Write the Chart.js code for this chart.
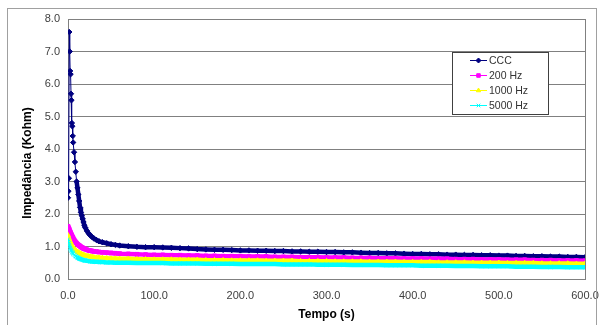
<!DOCTYPE html>
<html>
<head>
<meta charset="utf-8">
<script src="https://cdn.jsdelivr.net/npm/chart.js@4"></script>
<style>
  html, body { margin: 0; padding: 0; background: #fff; }
  #wrap { width: 601px; height: 325px; position: relative; }
</style>
</head>
<body>
<div id="wrap"><canvas id="myChart"></canvas></div>
<script>
const ctx = document.getElementById('myChart');

// tempo (s)
const tempo = [0,0.5,1,1.5,2,2.5,3,3.5,4,4.5,5,5.5,6,
  7,8,9,10,11,12,13,14,15,16,17,18,19,20,
  22,24,26,28,30,33,36,40,45,50,55,60,70,80,90,
  100,110,120,130,140,150,160,170,180,190,200,
  210,220,230,240,250,260,270,280,290,300,
  310,320,330,340,350,360,370,380,390,400,
  410,420,430,440,450,460,470,480,490,500,
  510,520,530,540,550,560,570,580,590,600];

const ccc = [2.5,2.7,3.1,7.6,7.0,6.4,6.3,5.7,5.5,4.8,4.7,4.4,4.2,
  3.9,3.6,3.3,3.0,2.8,2.6,2.4,2.2,2.05,1.95,1.85,1.75,1.65,1.58,
  1.48,1.40,1.34,1.29,1.25,1.20,1.16,1.13,1.10,1.07,1.05,1.03,1.01,0.99,0.98,
  0.98,0.97,0.96,0.95,0.94,0.92,0.91,0.90,0.90,0.89,0.88,
  0.88,0.87,0.87,0.86,0.86,0.85,0.85,0.84,0.84,0.83,
  0.83,0.82,0.82,0.81,0.80,0.80,0.79,0.79,0.78,0.77,
  0.77,0.76,0.76,0.75,0.75,0.74,0.74,0.73,0.73,0.72,
  0.72,0.71,0.71,0.70,0.70,0.69,0.69,0.68,0.68,0.67];

const hz200 = [1.62,1.58,1.55,1.52,1.48,1.45,1.42,1.39,1.36,1.33,1.30,1.28,1.25,
  1.21,1.17,1.13,1.10,1.07,1.05,1.03,1.01,0.99,0.97,0.96,0.94,0.93,0.92,
  0.90,0.88,0.87,0.86,0.85,0.84,0.83,0.82,0.81,0.80,0.79,0.78,0.77,0.76,0.75,
  0.74,0.74,0.73,0.73,0.72,0.72,0.71,0.71,0.70,0.70,0.70,
  0.69,0.69,0.69,0.68,0.68,0.68,0.67,0.67,0.67,0.66,
  0.66,0.66,0.65,0.65,0.65,0.64,0.64,0.64,0.63,0.63,
  0.63,0.62,0.62,0.62,0.61,0.61,0.61,0.60,0.60,0.60,
  0.59,0.59,0.59,0.58,0.58,0.58,0.57,0.57,0.57,0.56];

const hz1000 = [1.35,1.30,1.26,1.22,1.18,1.15,1.12,1.09,1.06,1.03,1.01,0.99,0.97,
  0.94,0.91,0.88,0.86,0.84,0.82,0.80,0.79,0.78,0.76,0.75,0.74,0.73,0.72,
  0.71,0.70,0.69,0.68,0.67,0.66,0.66,0.65,0.64,0.63,0.63,0.62,0.62,0.61,0.61,
  0.60,0.60,0.60,0.59,0.59,0.59,0.58,0.58,0.58,0.57,0.57,
  0.57,0.57,0.56,0.56,0.56,0.56,0.55,0.55,0.55,0.55,
  0.54,0.54,0.54,0.54,0.53,0.53,0.53,0.53,0.52,0.52,
  0.52,0.52,0.51,0.51,0.51,0.51,0.50,0.50,0.50,0.50,
  0.49,0.49,0.49,0.49,0.48,0.48,0.48,0.48,0.47,0.47];

const hz5000 = [1.22,1.15,1.10,1.05,1.00,0.96,0.93,0.90,0.87,0.84,0.82,0.80,0.78,
  0.75,0.72,0.70,0.68,0.66,0.64,0.63,0.62,0.61,0.60,0.59,0.58,0.57,0.57,
  0.56,0.55,0.54,0.54,0.53,0.53,0.52,0.52,0.51,0.51,0.50,0.50,0.50,0.49,0.49,
  0.49,0.49,0.48,0.48,0.48,0.48,0.47,0.47,0.47,0.47,0.46,
  0.46,0.46,0.46,0.46,0.45,0.45,0.45,0.45,0.44,0.44,
  0.44,0.44,0.43,0.43,0.43,0.43,0.42,0.42,0.42,0.42,
  0.41,0.41,0.41,0.41,0.40,0.40,0.40,0.39,0.39,0.39,
  0.39,0.38,0.38,0.38,0.37,0.37,0.37,0.36,0.36,0.36];

const seriesNames = ['CCC', '200 Hz', '1000 Hz', '5000 Hz'];
const seriesData = [ccc, hz200, hz1000, hz5000];
const colors = ['#000080', '#FF00FF', '#FFFF00', '#00FFFF'];
const markers = ['rectRot', 'rect', 'triangle', 'crossRot'];
const yTitle = 'Impedância (Kohm)';

function pts(values){
  return values.map((v, i) => ({x: tempo[i], y: v}));
}

// moldura externa, borda direita da area, titulo do eixo y e legenda
const excelFrame = {
  id: 'excelFrame',
  afterDraw(chart){
    const c = chart.ctx;
    const a = chart.chartArea;
    c.save();
    c.strokeStyle = '#a0a0a0';
    c.lineWidth = 1;
    c.strokeRect(7.5, 8.5, 589, 330);
    c.strokeStyle = '#808080';
    c.beginPath();
    c.moveTo(Math.round(a.right) + 0.5, a.top);
    c.lineTo(Math.round(a.right) + 0.5, a.bottom);
    c.stroke();

    // titulo do eixo y (no Excel fica um pouco abaixo do centro)
    c.save();
    c.translate(28, 163);
    c.rotate(-Math.PI / 2);
    c.font = 'bold 12px Arial, "Liberation Sans"';
    c.fillStyle = '#000';
    c.textAlign = 'center';
    c.textBaseline = 'middle';
    c.fillText(yTitle, 0, 0);
    c.restore();

    // legenda
    const lx = 452, ly = 52, lw = 96, lh = 62;
    c.fillStyle = '#fff';
    c.fillRect(lx, ly, lw, lh);
    c.strokeStyle = '#404040';
    c.strokeRect(lx + 0.5, ly + 0.5, lw, lh);
    c.font = '10.5px Arial, "Liberation Sans"';
    c.textBaseline = 'middle';
    seriesNames.forEach((name, i) => {
      const y = 60 + i * 15;
      c.strokeStyle = colors[i];
      c.fillStyle = colors[i];
      c.lineWidth = 1;
      c.beginPath();
      c.moveTo(470, y + 0.5);
      c.lineTo(487, y + 0.5);
      c.stroke();
      Chart.helpers.drawPoint(c, {
        pointStyle: markers[i], radius: 2.5, rotation: 0, borderWidth: 1
      }, 478.5, y + 0.5);
      c.fillStyle = '#333';
      c.fillText(name, 489, y + 1);
    });
    c.restore();
  }
};

const datasets = seriesData.map((vals, i) => ({
  label: seriesNames[i],
  data: pts(vals),
  borderColor: colors[i],
  backgroundColor: colors[i],
  borderWidth: 1,
  segment: {
    borderWidth: s => s.p0.parsed.x >= 10 ? 4.5 : 1
  },
  pointStyle: markers[i],
  pointRadius: 2.7,
  pointBorderWidth: 1,
  pointHoverRadius: 2.7,
  showLine: true,
  tension: 0,
  order: 3 - i
}));

const tickFont = { family: 'Arial, "Liberation Sans"', size: 11 };
const titleFont = { family: 'Arial, "Liberation Sans"', size: 12, weight: 'bold' };

const myChart = new Chart(ctx, {
  type: 'scatter',
  data: { datasets: datasets },
  plugins: [excelFrame],
  options: {
    responsive: true,
    maintainAspectRatio: false,
    animation: false,
    events: [],
    layout: { padding: { top: 19, right: 16, left: 22, bottom: 3 } },
    plugins: {
      legend: { display: false },
      tooltip: { enabled: false }
    },
    scales: {
      x: {
        type: 'linear',
        min: 0,
        max: 600,
        afterFit(scale){
          scale.height = 43;
          scale.paddingLeft = 0;
          scale.paddingRight = 0;
        },
        ticks: {
          stepSize: 100,
          padding: 10,
          color: '#404040',
          font: tickFont,
          callback: v => v.toFixed(1),
          maxRotation: 0
        },
        grid: { display: false, drawTicks: false },
        border: { color: '#808080', width: 1 },
        title: {
          display: true,
          text: 'Tempo (s)',
          color: '#000',
          font: titleFont,
          padding: { top: 0, bottom: 0 }
        }
      },
      y: {
        min: 0,
        max: 8,
        afterFit(scale){ scale.width = 46; },
        ticks: {
          stepSize: 1,
          padding: 8,
          color: '#404040',
          font: tickFont,
          callback: v => v.toFixed(1)
        },
        grid: { color: '#808080', lineWidth: 1, drawTicks: false },
        border: { color: '#808080', width: 1 },
        title: { display: false }
      }
    }
  }
});
</script>
</body>
</html>
